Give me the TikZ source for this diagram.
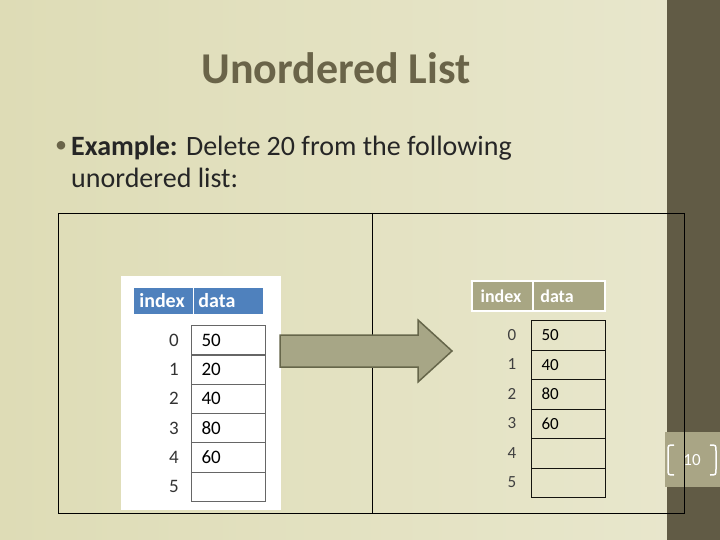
\documentclass[tikz,border=0pt]{standalone}
\usepackage{fontspec}
\setmainfont{Carlito}
\definecolor{bg}{HTML}{DEDCB6}
\definecolor{side}{HTML}{615B45}
\definecolor{band}{HTML}{A9A585}
\definecolor{ttl}{HTML}{6A6449}
\definecolor{blu}{HTML}{4F81BD}
\definecolor{hdr}{HTML}{A8A683}
\definecolor{arr}{HTML}{A7A686}
\definecolor{arrb}{HTML}{66664A}
\tikzset{cell/.style={draw=#1,line width=1pt,minimum width=74pt,minimum height=29.5pt,anchor=north west,inner sep=0pt,font=\fontsize{19}{19}\selectfont,text width=66pt,align=left},
idx/.style={font=\fontsize{19}{19}\selectfont,text=#1}}
\begin{document}
\begin{tikzpicture}[x=1pt,y=-1pt]
\useasboundingbox (0,0) rectangle (720,540);
\shade[left color=bg, right color=bg!70!white] (0,0) rectangle (667,540);
\fill[side] (667,0) rectangle (720,540);
\fill[band] (665,432) rectangle (720,487);
\node[text=white,font=\fontsize{17}{17}\selectfont] (pg) at (692,460) {10};
\draw[white,line width=1.5pt] (674,445) .. controls (668,445) .. (668,451) -- (668,469) .. controls (668,475) .. (674,475);
\draw[white,line width=1.5pt] (710,445) .. controls (716,445) .. (716,451) -- (716,469) .. controls (716,475) .. (710,475);
\node[text=ttl,font=\bfseries\fontsize{44}{44}\selectfont] (title) at (336,68) {Unordered List};
\node[text=ttl,font=\fontsize{24}{24}\selectfont] (bul) at (61,147) {•};
\node[anchor=west,inner sep=0pt,font=\fontsize{28}{28}\selectfont,text=black!85] (l1) at (71,148) {\textbf{Example:} Delete 20 from the following};
\node[anchor=west,inner sep=0pt,font=\fontsize{28}{28}\selectfont,text=black!85] (l2) at (71,178) {unordered list:};
\draw[black] (58,213) rectangle (684,513);
\draw[black] (372,213) -- (372,513);
% left table
\fill[white] (121,276) rectangle (281,510);
\fill[blu] (134,288) rectangle (263,314);
\draw[white,line width=1pt] (193,288) -- (193,314);
\node[text=white,font=\bfseries\fontsize{20}{20}\selectfont] (lh1) at (162,301) {index};
\node[text=white,font=\bfseries\fontsize{20}{20}\selectfont] (lh2) at (217,301) {data};
\foreach \i/\d [count=\k from 0] in {0/50,1/20,2/40,3/80,4/60,5/{}} {
  \node[cell=black!60] (lc\k) at (191,325+29.3*\k) {\hspace*{6pt}\d};
  \node[idx=black!80] (li\k) at (174,340+29.3*\k) {\i};
}
% arrow
\draw[fill=arr,draw=arrb,line width=1.5pt] (280,335) -- (418,335) -- (418,320) -- (452,351) -- (418,382) -- (418,367) -- (280,367) -- cycle;
% right table
\fill[hdr] (472,281) rectangle (605,311);
\draw[white,line width=1.5pt] (472,281) rectangle (605,311);
\draw[white,line width=1.5pt] (533,281) -- (533,311);
\node[text=white,font=\bfseries\fontsize{18}{18}\selectfont] (rh1) at (501,296) {index};
\node[text=white,font=\bfseries\fontsize{18}{18}\selectfont] (rh2) at (557,296) {data};
\foreach \i/\d [count=\k from 0] in {0/50,1/40,2/80,3/60,4/{},5/{}} {
  \node[cell=black!80!ttl,font=\fontsize{17}{17}\selectfont] (rc\k) at (531,320+29.5*\k) {\hspace*{6pt}\d};
  \node[idx=black!75,font=\fontsize{17}{17}\selectfont] (ri\k) at (512,335+29.5*\k) {\i};
}
\end{tikzpicture}
\end{document}
